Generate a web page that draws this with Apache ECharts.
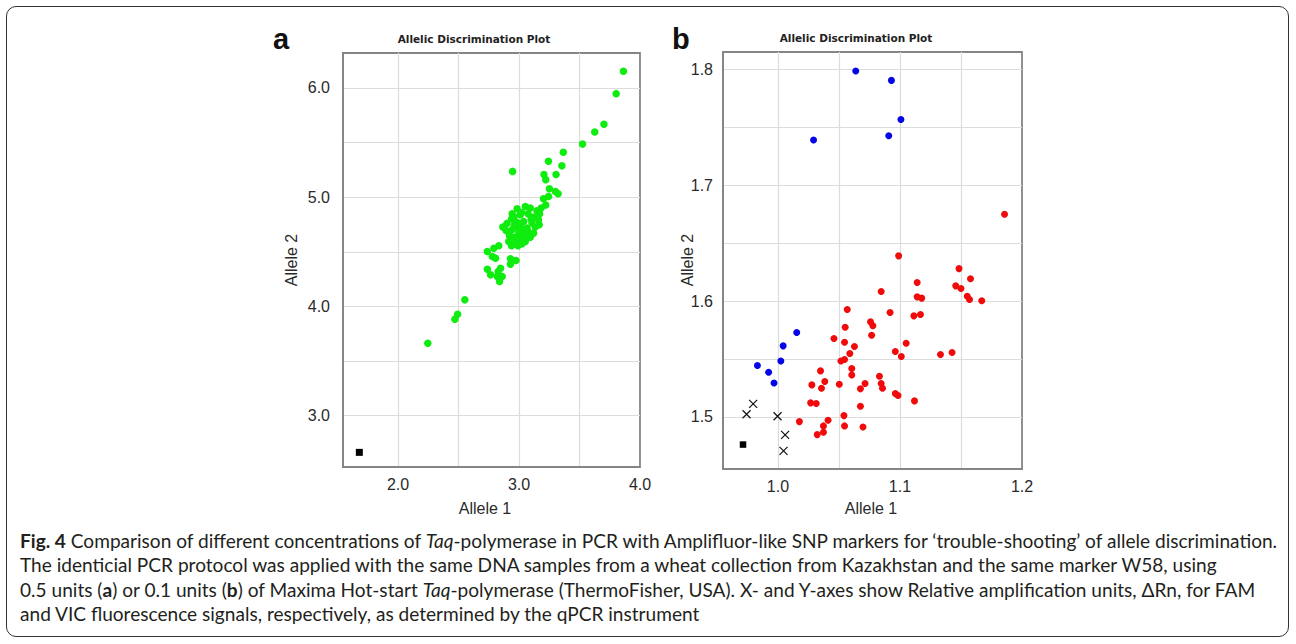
<!DOCTYPE html>
<html>
<head>
<meta charset="utf-8">
<script src="https://cdn.jsdelivr.net/npm/echarts@6/dist/echarts.min.js"></script>
<style>
  html, body { margin:0; padding:0; background:#fff; }
  #wrap { position:relative; width:1296px; height:644px; overflow:hidden; background:#fff; }
  #chart { position:absolute; left:0; top:0; width:1296px; height:644px; }
  #frame { position:absolute; left:6px; top:6px; width:1281px; height:629px; border:1.5px solid #333; border-radius:10px; pointer-events:none; }
  #caption { position:absolute; left:20px; top:529px; font-family:"Lato","Open Sans",sans-serif; color:#231f20; font-size:17px; }
  #caption div { white-space:nowrap; line-height:24.3px; }
  #caption span.l { display:inline-block; white-space:nowrap; }
</style>
</head>
<body>
<div id="wrap">
  <div id="chart"></div>
  <div id="frame"></div>
  <div id="caption">
    <div><span class="l" id="line1"><b>Fig. 4</b> Comparison of different concentrations of <i>Taq</i>-polymerase in PCR with Amplifluor-like SNP markers for ‘trouble-shooting’ of allele discrimination.</span></div>
    <div><span class="l">The identicial PCR protocol was applied with the same DNA samples from a wheat collection from Kazakhstan and the same marker W58, using</span></div>
    <div><span class="l">0.5 units (<b>a</b>) or 0.1 units (<b>b</b>) of Maxima Hot-start <i>Taq</i>-polymerase (ThermoFisher, USA). X- and Y-axes show Relative amplification units, ΔRn, for FAM</span></div>
    <div><span class="l">and VIC fluorescence signals, respectively, as determined by the qPCR instrument</span></div>
  </div>
</div>
<script>
// ---------- DATA ----------
const panelTitle = "Allelic Discrimination Plot";
const xAxisName = "Allele 1";
const yAxisName = "Allele 2";

// Panel a
const aGreen = [
  [3.863,6.153],[3.803,5.948],[3.702,5.667],[3.626,5.597],[3.525,5.486],[3.366,5.411],
  [3.243,5.328],[3.354,5.287],[2.947,5.236],[3.206,5.208],[3.306,5.208],[3.221,5.160],
  [3.251,5.077],[3.301,5.051],[3.323,5.031],[3.202,4.985],[3.244,5.006],[3.221,4.928],
  [3.183,4.900],[3.148,4.876],[3.170,4.848],[3.093,4.900],[3.052,4.915],[2.984,4.894],
  [2.943,4.848],[2.938,4.800],[3.011,4.839],[3.074,4.848],[3.120,4.818],[3.161,4.793],
  [3.107,4.763],[3.038,4.778],[2.984,4.768],[3.011,4.726],[3.066,4.717],[3.134,4.726],
  [3.167,4.747],[2.866,4.726],[2.893,4.695],[2.943,4.702],[2.921,4.646],[2.956,4.634],
  [2.997,4.665],[3.038,4.640],[3.093,4.634],[3.120,4.671],[3.074,4.686],[2.915,4.594],
  [2.970,4.579],[2.997,4.610],[3.052,4.594],[3.025,4.573],[2.938,4.555],[2.992,4.555],
  [2.833,4.555],[2.792,4.533],[2.738,4.503],[2.779,4.457],[2.806,4.442],[2.929,4.436],
  [2.975,4.420],[2.929,4.387],[2.738,4.341],[2.765,4.289],[2.847,4.350],[2.828,4.319],
  [2.861,4.273],[2.820,4.273],[2.839,4.228],[2.246,3.663],[2.470,3.883],[2.492,3.929],
  [2.552,4.060],[2.900,4.760],[3.000,4.700],[3.050,4.680],[2.960,4.740],[3.100,4.800],
  [3.020,4.860],[2.960,4.820]
];
const aNTC = [[1.680,2.664]];

// Panel b
const bBlue = [
  [1.0638,1.7986],[1.0930,1.7905],[1.1008,1.7568],[1.0908,1.7427],[1.0292,1.7390],
  [1.0154,1.5728],[1.0043,1.5613],[1.0024,1.5483],[0.9832,1.5443],[0.9924,1.5386],[0.9968,1.5293]
];
const bRed = [
  [1.1857,1.6750],[1.0989,1.6390],[1.1484,1.6280],[1.1141,1.6160],[1.1578,1.6192],[1.1457,1.6131],
  [1.1500,1.6108],[1.0846,1.6082],[1.1141,1.6036],[1.1178,1.6025],[1.1551,1.6042],[1.1570,1.6013],
  [1.1670,1.6002],[1.0568,1.5927],[1.0919,1.5901],[1.1114,1.5872],[1.1168,1.5884],[1.0759,1.5820],
  [1.0778,1.5786],[1.0551,1.5774],[1.0768,1.5705],[1.0459,1.5676],[1.0546,1.5645],[1.0627,1.5607],
  [1.1051,1.5636],[1.0589,1.5547],[1.0962,1.5564],[1.1011,1.5521],[1.1332,1.5538],[1.1427,1.5556],
  [1.0546,1.5495],[1.0516,1.5483],[1.0605,1.5417],[1.0605,1.5362],[1.0349,1.5397],[1.0384,1.5305],
  [1.0278,1.5276],[1.0357,1.5247],[1.0503,1.5282],[1.0832,1.5351],[1.0846,1.5288],[1.0857,1.5247],
  [1.0714,1.5288],[1.0676,1.5242],[1.0962,1.5201],[1.0984,1.5184],[1.1119,1.5138],[1.0268,1.5121],
  [1.0314,1.5115],[1.0676,1.5092],[1.0541,1.5011],[1.0176,1.4959],[1.0411,1.4971],[1.0373,1.4922],
  [1.0546,1.4922],[1.0697,1.4913],[1.0322,1.4847],[1.0373,1.4867]
];
const bUndetermined = [[0.9797,1.5112],[0.9743,1.5023],[0.9997,1.5005],[1.0059,1.4844],[1.0046,1.4706]];
const bNTC = [[0.9714,1.4761]];

// Axis ticks / labels
const aXGrid = [2.0, 2.5, 3.0, 3.5];
const aXLabels = [2.0, 3.0, 4.0];
const aYGrid = [3.0, 3.5, 4.0, 4.5, 5.0, 5.5, 6.0];
const aYLabels = [3.0, 4.0, 5.0, 6.0];
const bXGrid = [1.0, 1.05, 1.1, 1.15];
const bXLabels = [1.0, 1.1, 1.2];
const bYGrid = [1.5, 1.55, 1.6, 1.65, 1.7, 1.75, 1.8];
const bYLabels = [1.5, 1.6, 1.7, 1.8];
const aRange = {xmin:1.545, xmax:4.0, ymin:2.53, ymax:6.32};
const bRange = {xmin:0.955, xmax:1.2, ymin:1.455, ymax:1.815};

// ---------- CHART ----------
const tickFont = {fontFamily:"Liberation Sans", fontSize:16, color:"#2a2a2a"};
function valAxis(idx, range, grid, labels, isX, margin) {
  return {
    type:'value', gridIndex: idx,
    min: isX ? range.xmin : range.ymin,
    max: isX ? range.xmax : range.ymax,
    axisLine:{show:true, lineStyle:{color:'#858585', width:1.8}},
    axisTick:{show:false, customValues: grid},
    axisLabel:{show:true, customValues: labels, margin: margin,
      formatter: v => Number(v).toFixed(1), ...tickFont},
    splitLine:{show:true, lineStyle:{color:'#dcdcdc', width:1.2}}
  };
}
const crossPath = 'path://M0,0L10,10M10,0L0,10';
const option = {
  animation:false,
  grid:[
    {left:343, top:53, width:297, height:414, show:true, borderColor:'#858585', borderWidth:1.8, backgroundColor:'#fff'},
    {left:723, top:52, width:299, height:417, show:true, borderColor:'#858585', borderWidth:1.8, backgroundColor:'#fff'}
  ],
  xAxis:[
    valAxis(0, aRange, aXGrid, aXLabels, true, 9),
    valAxis(1, bRange, bXGrid, bXLabels, true, 9)
  ],
  yAxis:[
    valAxis(0, aRange, aYGrid, aYLabels, false, 13),
    valAxis(1, bRange, bYGrid, bYLabels, false, 10)
  ],
  series:[
    {type:'scatter', xAxisIndex:0, yAxisIndex:0, data:aGreen, symbol:'circle', symbolSize:7.5,
      itemStyle:{color:'#0fec0f', opacity:1}},
    {type:'scatter', xAxisIndex:0, yAxisIndex:0, data:aNTC, symbol:'rect', symbolSize:7,
      itemStyle:{color:'#000', opacity:1}},
    {type:'scatter', xAxisIndex:1, yAxisIndex:1, data:bRed, symbol:'circle', symbolSize:7,
      itemStyle:{color:'#f00a0a', opacity:1}},
    {type:'scatter', xAxisIndex:1, yAxisIndex:1, data:bBlue, symbol:'circle', symbolSize:7,
      itemStyle:{color:'#0505e6', opacity:1}},
    {type:'scatter', xAxisIndex:1, yAxisIndex:1, data:bUndetermined, symbol:crossPath, symbolSize:8,
      itemStyle:{color:'transparent', borderColor:'#111', borderWidth:1.2, opacity:1}},
    {type:'scatter', xAxisIndex:1, yAxisIndex:1, data:bNTC, symbol:'rect', symbolSize:6.5,
      itemStyle:{color:'#000', opacity:1}}
  ],
  graphic:[
    {type:'text', left:273, top:24, style:{text:'a', font:'bold 29px "Liberation Sans"', fill:'#111'}},
    {type:'text', left:672, top:24, style:{text:'b', font:'bold 29px "Liberation Sans"', fill:'#111'}},
    {type:'text', x:474, y:39, style:{text:panelTitle, font:'bold 10.5px "DejaVu Sans"', fill:'#222', align:'center', verticalAlign:'middle'}},
    {type:'text', x:856, y:38, style:{text:panelTitle, font:'bold 10.5px "DejaVu Sans"', fill:'#222', align:'center', verticalAlign:'middle'}},
    {type:'text', x:485, y:508, style:{text:xAxisName, font:'16px "Liberation Sans"', fill:'#2a2a2a', align:'center', verticalAlign:'middle'}},
    {type:'text', x:871, y:508, style:{text:xAxisName, font:'16px "Liberation Sans"', fill:'#2a2a2a', align:'center', verticalAlign:'middle'}},
    {type:'text', x:291, y:260, rotation:Math.PI/2, style:{text:yAxisName, font:'16px "Liberation Sans"', fill:'#2a2a2a', align:'center', verticalAlign:'middle'}},
    {type:'text', x:687, y:260, rotation:Math.PI/2, style:{text:yAxisName, font:'16px "Liberation Sans"', fill:'#2a2a2a', align:'center', verticalAlign:'middle'}}
  ]
};
const chart = echarts.init(document.getElementById('chart'), null, {renderer:'svg'});
chart.setOption(option);

// fit caption font size so first line spans the reference width
(function(){
  const l1 = document.getElementById('line1');
  const w = l1.getBoundingClientRect().width;
  const target = 1258;
  const fs = 17 * target / w;
  document.getElementById('caption').style.fontSize = fs.toFixed(2) + 'px';
})();
</script>
</body>
</html>
